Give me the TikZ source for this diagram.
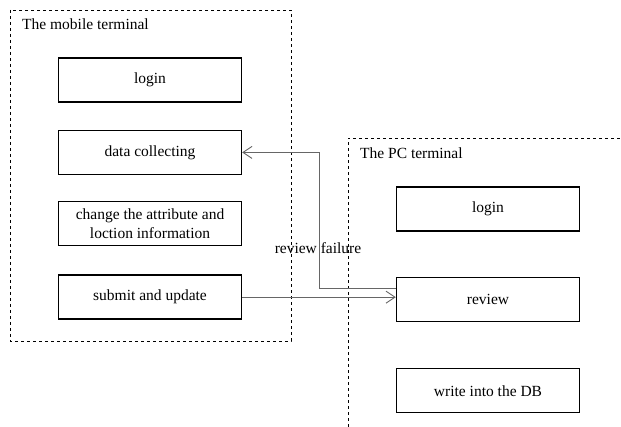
\documentclass[tikz,border=0pt]{standalone}
\usepackage{fontspec}
\setmainfont{Liberation Serif}
\usetikzlibrary{positioning, arrows.meta}

\begin{document}
\begin{tikzpicture}[x=1pt, y=1pt,
    stepbox/.style={draw=black, line width=1.4pt, minimum width=183pt, minimum height=44pt,
        inner sep=1pt, align=center, font=\fontsize{15.5}{19}\selectfont},
    frame/.style={draw=black, dashed, line width=0.7pt},
    flow/.style={draw=black!60, line width=0.9pt, -{Straight Barb[length=9pt, width=12pt]}},
    title/.style={anchor=west, inner sep=0pt, font=\fontsize{15.5}{19}\selectfont}
]
\useasboundingbox (0,0) rectangle (621,427);
% mobile terminal
\draw[frame] (10,417) rectangle (291,86);
\node[title](mtitle) at (22,403){The mobile terminal};
\node[stepbox](mlogin) at (150,347){login};
\node[stepbox](mdata)[below = 27pt of mlogin]{data collecting};
\node[stepbox](mchange)[below = 26pt of mdata]{change the attribute and\\loction information};
\node[stepbox](msubmit)[below = 28pt of mchange]{submit and update};
% PC terminal
\draw[frame] (348,0) -- (348,289) -- (621,289);
\node[title](ptitle) at (360,274){The PC terminal};
\node[stepbox](plogin) at (488,218){login};
\node[stepbox](preview)[below = 45pt of plogin]{review};
\node[stepbox](pdb)[below = 46pt of preview]{write into the DB};
% connectors
\draw[flow] (msubmit.east) -- (msubmit.east -| preview.west);
\draw[flow] ([yshift=11pt]preview.west) -- ++(-76,0) |- (mdata.east);
\node[font=\fontsize{15.5}{19}\selectfont](fail) at (318,179){review failure};
\end{tikzpicture}
\end{document}
